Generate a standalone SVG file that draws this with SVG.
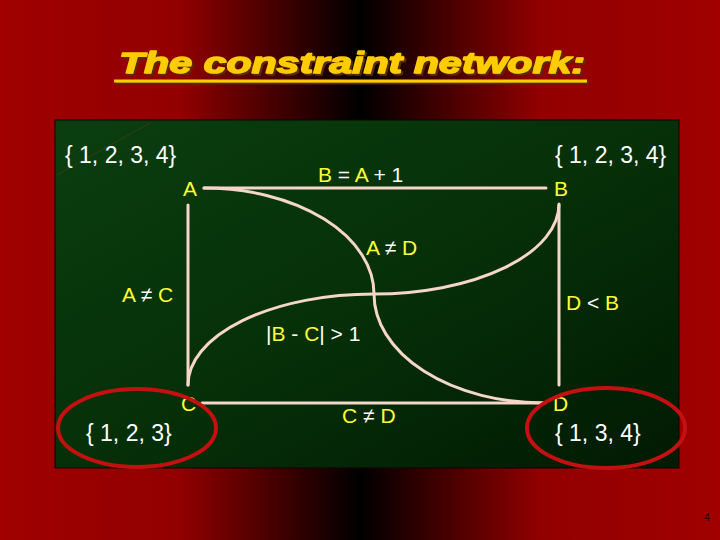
<svg xmlns="http://www.w3.org/2000/svg" width="720" height="540" viewBox="0 0 720 540">
<defs>
<linearGradient id="bg" x1="0" y1="0" x2="1" y2="0">
<stop offset="0" stop-color="#a00000"/>
<stop offset="0.25" stop-color="#920000"/>
<stop offset="0.5" stop-color="#000000"/>
<stop offset="0.75" stop-color="#920000"/>
<stop offset="1" stop-color="#a00000"/>
</linearGradient>
<linearGradient id="panel" x1="0" y1="0" x2="1" y2="1">
<stop offset="0" stop-color="#0a3e10"/>
<stop offset="0.5" stop-color="#063008"/>
<stop offset="1" stop-color="#011a03"/>
</linearGradient>
<filter id="shadow" x="-5%" y="-20%" width="110%" height="150%">
<feFlood flood-color="#5a2a00"/>
<feComposite in2="SourceAlpha" operator="in"/>
<feOffset dx="2" dy="2" result="sh"/>
<feMerge><feMergeNode in="sh"/><feMergeNode in="SourceGraphic"/></feMerge>
</filter>
<style>
.dom{font-family:"Liberation Sans",Arial,sans-serif;font-size:23px;fill:#ffffff}
.lbl{font-family:"Liberation Sans",Arial,sans-serif;font-size:21px;fill:#ffff33}
.w{fill:#ffffff}
.edge{fill:none;stroke:#f6d6c8;stroke-width:3;stroke-linecap:round}
.ring{fill:none;stroke:#c41010;stroke-width:4}
.title{font-family:"Liberation Sans",Arial,sans-serif;font-size:30px;font-weight:bold;font-style:italic;fill:#ffcc00;stroke:#ffcc00;stroke-width:1.4;stroke-linejoin:round}
</style>
</defs>
<rect x="0" y="0" width="720" height="540" fill="url(#bg)"/>
<g id="title" filter="url(#shadow)">
<text class="title" x="119" y="73" textLength="466" lengthAdjust="spacingAndGlyphs">The constraint network:</text>
<line x1="114" y1="81" x2="587" y2="81" stroke="#ffcc00" stroke-width="3"/>
</g>
<rect x="55" y="120" width="624" height="348" fill="url(#panel)" stroke="#140000" stroke-width="1"/>
<line x1="57" y1="175" x2="150" y2="123" stroke="#6a3a1a" stroke-width="1" opacity="0.5"/>
<g id="connectors">
<line class="edge" x1="204" y1="188" x2="546" y2="188"/>
<line class="edge" x1="188" y1="205" x2="188" y2="385"/>
<line class="edge" x1="559" y1="205" x2="559" y2="385"/>
<line class="edge" x1="202" y1="403" x2="545" y2="403"/>
<path class="edge" d="M204,188 A170,106 0 0 1 374,294 A170,109 0 0 0 544,403"/>
<path class="edge" d="M188,385 A186,91 0 0 1 374,294 A185,90 0 0 0 559,204"/>
<text class="lbl" x="318" y="182"><tspan>B</tspan><tspan class="w"> = </tspan><tspan>A</tspan><tspan class="w"> + 1</tspan></text>
<text class="lbl" x="366" y="255"><tspan>A</tspan><tspan class="w"> ≠ </tspan><tspan>D</tspan></text>
<text class="lbl" x="122" y="302"><tspan>A</tspan><tspan class="w"> ≠ </tspan><tspan>C</tspan></text>
<text class="lbl" x="566" y="310"><tspan>D</tspan><tspan class="w"> &lt; </tspan><tspan>B</tspan></text>
<text class="lbl" x="266" y="341"><tspan class="w">|</tspan><tspan>B</tspan><tspan class="w"> - </tspan><tspan>C</tspan><tspan class="w">| &gt; 1</tspan></text>
<text class="lbl" x="342" y="423"><tspan>C</tspan><tspan class="w"> ≠ </tspan><tspan>D</tspan></text>
</g>
<g id="node-A">
<text class="dom" x="65" y="163">{ 1, 2, 3, 4}</text>
<text class="lbl" x="183" y="196">A</text>
</g>
<g id="node-B">
<text class="dom" x="555" y="163">{ 1, 2, 3, 4}</text>
<text class="lbl" x="554" y="196">B</text>
</g>
<g id="node-C">
<text class="lbl" x="181" y="411">C</text>
<text class="dom" x="86" y="441">{ 1, 2, 3}</text>
<ellipse class="ring" cx="137" cy="428" rx="79" ry="39"/>
</g>
<g id="node-D">
<text class="lbl" x="553" y="411">D</text>
<text class="dom" x="555" y="441">{ 1, 3, 4}</text>
<ellipse class="ring" cx="606" cy="428" rx="79" ry="40"/>
</g>
<text x="704" y="521" font-family="Liberation Sans,Arial,sans-serif" font-size="11" fill="#3a0000">4</text>
</svg>
